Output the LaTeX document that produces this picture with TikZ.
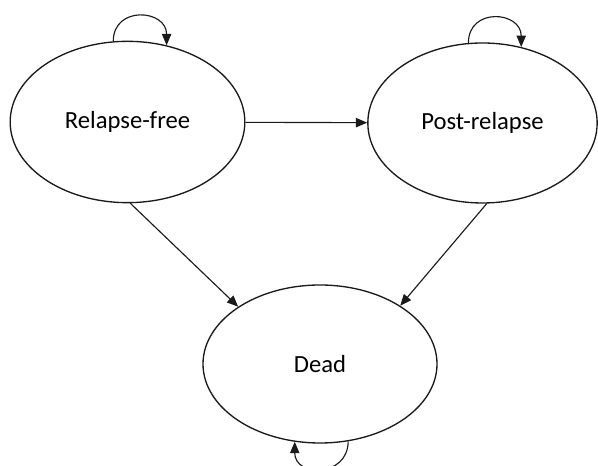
\documentclass[tikz,border=0pt]{standalone}
\usepackage{fontspec}
\setmainfont{Carlito}
\usetikzlibrary{arrows.meta,shapes.geometric}
\definecolor{ink}{HTML}{1A1A1A}

\begin{document}
\begin{tikzpicture}[x=0.75pt,y=0.75pt,
  font=\fontsize{18.5}{22}\selectfont,
  state/.style={ellipse,draw=ink,line width=1pt,inner sep=0pt,
                minimum width=176pt,minimum height=121pt},
  a/.style={-{Triangle[length=8.5pt,width=7pt]},draw=ink,line width=0.85pt}]
\useasboundingbox (0,0) rectangle (598,466);
\node[state] (rf) at (127.5,344) {Relapse-free};
\node[state,minimum width=172pt,minimum height=120pt] (pr) at (482.5,343) {Post-relapse};
\node[state,minimum width=175.5pt,minimum height=118.5pt] (d) at (320,102) {Dead};
\draw[a] (rf)--(pr);
\draw[a] (rf.272)--(d.145);
\draw[a] (pr.273)--(d.36);
% staying in the same state
\draw[a] (rf.100) .. controls +(0,36) and +(0,36) .. (rf.63);
\draw[a] (pr.100) .. controls +(0,36) and +(0,36) .. (pr.63);
\draw[a] (d.290) .. controls +(0,-36) and +(0,-36) .. (d.252);
\end{tikzpicture}
\end{document}
